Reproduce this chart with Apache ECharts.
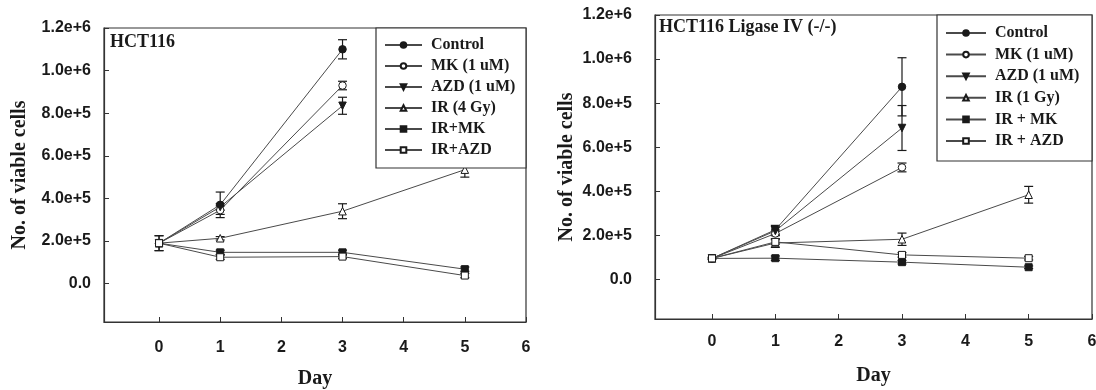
<!DOCTYPE html>
<html>
<head>
<meta charset="utf-8">
<script src="https://cdn.jsdelivr.net/npm/echarts@6/dist/echarts.min.js"></script>
<style>
  html, body { margin: 0; padding: 0; background: #fff; }
  #chart { width: 1096px; height: 390px; }
</style>
</head>
<body>
<div id="chart"></div>
<script>
// Days of measurement
const daysShort = [0, 1, 3];
const daysLong = [0, 1, 3, 5];

// Axis tick values and their labels
const xTicks = [0, 1, 2, 3, 4, 5, 6];
const yTicks = [0, 200000, 400000, 600000, 800000, 1000000, 1200000];
const yTickLabels = ['0.0', '2.0e+5', '4.0e+5', '6.0e+5', '8.0e+5', '1.0e+6', '1.2e+6'];

// Panel A: HCT116 — viable cell counts and SE
const hctControl = [190000, 370000, 1100000];
const hctControlErr = [35000, 60000, 45000];
const hctMK = [190000, 345000, 930000];
const hctMKErr = [0, 20000, 20000];
const hctAZD = [190000, 360000, 835000];
const hctAZDErr = [0, 15000, 40000];
const hctIR = [190000, 213000, 340000, 535000];
const hctIRErr = [0, 8000, 35000, 35000];
const hctIRMK = [190000, 147000, 147000, 68000];
const hctIRMKErr = [0, 10000, 10000, 10000];
const hctIRAZD = [190000, 124000, 127000, 38000];
const hctIRAZDErr = [35000, 10000, 8000, 10000];

// Panel B: HCT116 Ligase IV (-/-)
const ligControl = [95000, 225000, 874000];
const ligControlErr = [5000, 20000, 132000];
const ligMK = [95000, 208000, 508000];
const ligMKErr = [0, 10000, 20000];
const ligAZD = [95000, 220000, 687000];
const ligAZDErr = [0, 20000, 102000];
const ligIR = [95000, 165000, 182000, 384000];
const ligIRErr = [0, 20000, 28000, 38000];
const ligIRMK = [95000, 96000, 78000, 55000];
const ligIRMKErr = [0, 10000, 8000, 6000];
const ligIRAZD = [95000, 170000, 111000, 96000];
const ligIRAZDErr = [0, 10000, 10000, 8000];

const namesA = ['Control', 'MK (1 uM)', 'AZD (1 uM)', 'IR (4 Gy)', 'IR+MK', 'IR+AZD'];
const namesB = ['Control', 'MK (1 uM)', 'AZD (1 uM)', 'IR (1 Gy)', 'IR + MK', 'IR + AZD'];

const panelTitles = ['HCT116', 'HCT116 Ligase IV (-/-)'];
const yAxisTitle = 'No. of viable cells';
const xAxisTitle = 'Day';

// Marker style per treatment
const markerStyles = [
  { symbol: 'circle', filled: true, rotate: 0 },
  { symbol: 'circle', filled: false, rotate: 0 },
  { symbol: 'triangle', filled: true, rotate: 180 },
  { symbol: 'triangle', filled: false, rotate: 0 },
  { symbol: 'rect', filled: true, rotate: 0 },
  { symbol: 'rect', filled: false, rotate: 0 }
];

const panels = [
  {
    names: namesA,
    days: [daysShort, daysShort, daysShort, daysLong, daysLong, daysLong],
    values: [hctControl, hctMK, hctAZD, hctIR, hctIRMK, hctIRAZD],
    errs: [hctControlErr, hctMKErr, hctAZDErr, hctIRErr, hctIRMKErr, hctIRAZDErr]
  },
  {
    names: namesB,
    days: [daysShort, daysShort, daysShort, daysLong, daysLong, daysLong],
    values: [ligControl, ligMK, ligAZD, ligIR, ligIRMK, ligIRAZD],
    errs: [ligControlErr, ligMKErr, ligAZDErr, ligIRErr, ligIRMKErr, ligIRAZDErr]
  }
];

const SERIF = '"Liberation Serif", "Times New Roman", serif';
const SANS = '"Liberation Sans", Arial, sans-serif';
const INK = '#1a1a1a';
const LINE = '#4a4a4a';

// Vertical error bar with caps, drawn from [day, low, high]
function errorBarItem(params, api) {
  const x = api.value(0);
  const lo = api.value(1);
  const hi = api.value(2);
  if (hi - lo <= 0) return null;
  const a = api.coord([x, lo]);
  const b = api.coord([x, hi]);
  const cap = 4.5;
  const style = { stroke: INK, lineWidth: 1.2 };
  return {
    type: 'group',
    children: [
      { type: 'line', shape: { x1: a[0], y1: a[1], x2: b[0], y2: b[1] }, style },
      { type: 'line', shape: { x1: a[0] - cap, y1: a[1], x2: a[0] + cap, y2: a[1] }, style },
      { type: 'line', shape: { x1: b[0] - cap, y1: b[1], x2: b[0] + cap, y2: b[1] }, style }
    ]
  };
}

const series = [];
panels.forEach((p, pi) => {
  p.names.forEach((name, si) => {
    const m = markerStyles[si];
    const pts = p.days[si].map((d, k) => [d, p.values[si][k]]);
    const bars = p.days[si].map((d, k) => [d, p.values[si][k] - p.errs[si][k], p.values[si][k] + p.errs[si][k]]);
    series.push({
      type: 'line',
      name: name,
      xAxisIndex: pi,
      yAxisIndex: pi,
      data: pts,
      symbol: m.symbol,
      symbolRotate: m.rotate,
      symbolSize: m.symbol === 'rect' ? 7 : 7.5,
      showAllSymbol: true,
      lineStyle: { color: LINE, width: 1 },
      itemStyle: { color: m.filled ? INK : '#ffffff', borderColor: INK, borderWidth: 1 },
      emphasis: { disabled: true },
      z: 3
    });
    series.push({
      type: 'custom',
      name: name + ' SE',
      xAxisIndex: pi,
      yAxisIndex: pi,
      renderItem: errorBarItem,
      data: bars,
      z: 2,
      silent: true,
      encode: { x: 0, y: [1, 2] }
    });
  });
});

const grids = [
  { left: 104, right: 570, top: 28, bottom: 68 },
  { left: 655, right: 4, top: 15, bottom: 71 }
];

function makeX(gi, nameGap, margin) {
  return {
    type: 'value', gridIndex: gi, min: -0.9, max: 6,
    name: xAxisTitle, nameLocation: 'middle', nameGap: nameGap,
    nameTextStyle: { fontFamily: SERIF, fontWeight: 'bold', fontSize: 20, color: INK },
    axisLine: { show: true, onZero: false, lineStyle: { color: '#333', width: 1.2 } },
    axisTick: { show: true, inside: true, length: 5, customValues: xTicks, lineStyle: { color: '#333' } },
    axisLabel: { customValues: xTicks, margin: margin, fontFamily: SANS, fontWeight: 'bold', fontSize: 16, color: INK },
    splitLine: { show: false }
  };
}

function makeY(gi, nameGap, margin) {
  return {
    type: 'value', gridIndex: gi, min: -180000, max: 1200000,
    name: yAxisTitle, nameLocation: 'middle', nameGap: nameGap,
    nameTextStyle: { fontFamily: SERIF, fontWeight: 'bold', fontSize: 20, color: INK },
    axisLine: { show: true, onZero: false, lineStyle: { color: '#333', width: 1.2 } },
    axisTick: { show: true, inside: true, length: 5, customValues: yTicks, lineStyle: { color: '#333' } },
    axisLabel: {
      customValues: yTicks, margin: margin,
      formatter: v => yTickLabels[yTicks.indexOf(v)] ?? '',
      fontFamily: SANS, fontWeight: 'bold', fontSize: 16, color: INK
    },
    splitLine: { show: false }
  };
}

function makeLegend(names, left, top, itemWidth, itemGap) {
  return {
    data: names, orient: 'vertical', left: left, top: top,
    itemWidth: itemWidth, itemHeight: 7, itemGap: itemGap, padding: 0,
    selectedMode: false, z: 7,
    textStyle: { fontFamily: SERIF, fontWeight: 'bold', fontSize: 16, lineHeight: 16, color: INK, padding: [0, 0, 0, 4] }
  };
}

const chart = echarts.init(document.getElementById('chart'), null, { renderer: 'canvas' });
chart.setOption({
  backgroundColor: '#ffffff',
  animation: false,
  grid: grids.map(g => Object.assign({
    show: true, borderColor: '#333', borderWidth: 1.2, backgroundColor: 'transparent',
    containLabel: false, outerBoundsMode: 'none'
  }, g)),
  xAxis: [makeX(0, 47, 18), makeX(1, 47, 15)],
  yAxis: [makeY(0, 74, 13), makeY(1, 78, 23)],
  legend: [
    makeLegend(namesA, 384, 37, 37, 5),
    makeLegend(namesB, 945, 25, 40, 5.6)
  ],
  title: [
    { text: panelTitles[0], left: 110, top: 33, textStyle: { fontFamily: SERIF, fontWeight: 'bold', fontSize: 18, color: INK }, padding: 0 },
    { text: panelTitles[1], left: 659, top: 18, textStyle: { fontFamily: SERIF, fontWeight: 'bold', fontSize: 18, color: INK }, padding: 0 }
  ],
  graphic: [
    { type: 'rect', shape: { x: 376, y: 28, width: 150, height: 140 }, style: { fill: '#fff', stroke: '#333', lineWidth: 1.2 }, z: 6 },
    { type: 'rect', shape: { x: 937, y: 15, width: 155, height: 146 }, style: { fill: '#fff', stroke: '#333', lineWidth: 1.2 }, z: 6 }
  ],
  series: series
});
</script>
</body>
</html>
